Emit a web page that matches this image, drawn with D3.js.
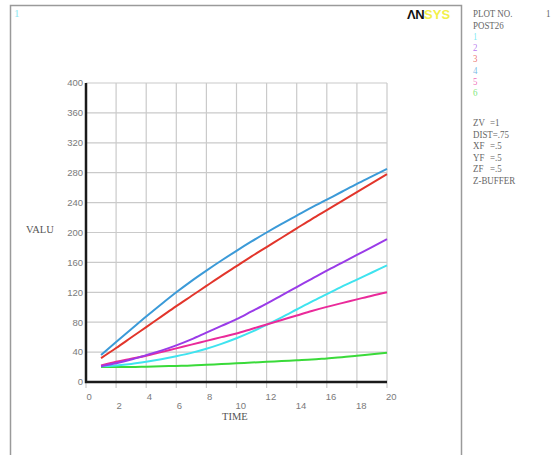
<!DOCTYPE html>
<html>
<head>
<meta charset="utf-8">
<script src="https://cdn.jsdelivr.net/npm/d3@7"></script>
<style>
  html, body { margin: 0; padding: 0; background: #fff; }
  svg { display: block; }
</style>
</head>
<body>
<script>
// POST26 time-history variables 1..6 against TIME
const time = [1, 2, 3, 4, 5, 6, 7, 8, 9, 10, 11, 12, 13, 14, 15, 16, 17, 18, 19, 20];
const var1 = [21, 22, 24, 27, 30.5, 34.5, 39, 44.5, 51, 58.5, 67, 76.5, 86.5, 97, 107.5, 117.5, 127.5, 137, 146.5, 156];
const var2 = [21, 25, 30, 36, 42, 49, 57, 66, 75, 84, 94.5, 105, 116, 127, 138, 149, 159.5, 170, 180.5, 191];
const var3 = [32, 45.5, 59.5, 73.5, 87.5, 101.5, 115, 128.5, 142, 155, 168, 180.5, 193, 205.5, 218, 230, 242, 254, 266, 278];
const var4 = [36, 53.5, 70.5, 87.5, 104, 120, 135, 149, 162.5, 175.5, 188, 200, 211.5, 222.5, 233.5, 244, 254.5, 265, 275, 285];
const var5 = [22, 27, 31, 35, 40, 45, 50, 55, 60, 65, 71, 77, 83, 89, 95, 100.5, 105.5, 110.5, 115.5, 120];
const var6 = [20, 20, 20, 20.5, 21, 21.5, 22, 23, 24, 25, 26, 27, 28, 29, 30, 31.5, 33, 35, 37, 39];

const seriesNames = ["1", "2", "3", "4", "5", "6"];
const seriesColors = ["#3fe3ef", "#9a3be8", "#e2352b", "#3b9ad8", "#ea2a9a", "#3ada3a"];
const seriesValues = [var1, var2, var3, var4, var5, var6];
// draw order: lower curves first
const drawOrder = [5, 0, 4, 1, 2, 3];

const xTicks = [0, 2, 4, 6, 8, 10, 12, 14, 16, 18, 20];
const yTicks = [0, 40, 80, 120, 160, 200, 240, 280, 320, 360, 400];

const panelTop = ["PLOT NO.", "POST26"];
// view settings: [name, value]; an empty value means the row is one piece of text
const viewKeys = ["ZV", "DIST=.75", "XF", "YF", "ZF", "Z-BUFFER"];
const viewVals = ["=1", "", "=.5", "=.5", "=.5", ""];

const W = 559, H = 455;
const svg = d3.select("body").append("svg").attr("width", W).attr("height", H);

// window frame
svg.append("path")
  .attr("d", "M10.5,460 V5.5 H461.5 V460")
  .attr("fill", "none").attr("stroke", "#9a9a9a").attr("stroke-width", 1.5);

// window number
svg.append("text").attr("x", 14).attr("y", 17)
  .attr("font-family", "Liberation Serif").attr("font-size", 11)
  .attr("fill", "#8fe8f2").text("1");

// logo
const logo = svg.append("text").attr("x", 407).attr("y", 19)
  .attr("font-family", "Liberation Sans").attr("font-size", 13);
logo.append("tspan").attr("font-weight", "bold").attr("fill", "#111")
  .attr("letter-spacing", -0.5).text("ΛN");
logo.append("tspan").attr("fill", "#f2f04a").attr("font-weight", "bold").text("SYS");

// scales
const x = d3.scaleLinear().domain([0, 20]).range([86, 387]);
const y = d3.scaleLinear().domain([0, 400]).range([382, 83]);

// grid
const grid = svg.append("g").attr("stroke", "#cacaca").attr("stroke-width", 1.2);
grid.selectAll("line.v").data(xTicks).join("line")
  .attr("x1", d => x(d)).attr("x2", d => x(d))
  .attr("y1", y(400)).attr("y2", y(0) + 6);
grid.selectAll("line.h").data(yTicks).join("line")
  .attr("x1", x(0)).attr("x2", x(20))
  .attr("y1", d => y(d)).attr("y2", d => y(d));

// tick labels
const tickFont = "Liberation Sans";
svg.append("g").selectAll("text").data(yTicks).join("text")
  .attr("x", 83).attr("y", d => y(d)).attr("dy", "0.35em")
  .attr("text-anchor", "end")
  .attr("font-family", tickFont).attr("font-size", 9.5).attr("fill", "#7a7a7a")
  .text(d => d);
svg.append("g").selectAll("text").data(xTicks).join("text")
  .attr("x", d => x(d) + (d >= 10 ? -1 : 0.5))
  .attr("y", (d, i) => i % 2 === 0 ? 400 : 409)
  .attr("font-family", tickFont).attr("font-size", 9.5).attr("fill", "#7a7a7a")
  .text(d => d);

// axis titles
svg.append("text").attr("x", 26).attr("y", 233)
  .attr("font-family", "Liberation Serif").attr("font-size", 10.5).attr("fill", "#555")
  .text("VALU");
svg.append("text").attr("x", 222).attr("y", 420)
  .attr("font-family", "Liberation Serif").attr("font-size", 10.5).attr("fill", "#555")
  .text("TIME");

// curves
const line = d3.line().x((d, i) => x(time[i])).y(d => y(d)).curve(d3.curveMonotoneX);
svg.append("g").selectAll("path").data(drawOrder).join("path")
  .attr("d", k => line(seriesValues[k]))
  .attr("fill", "none")
  .attr("stroke", k => seriesColors[k])
  .attr("stroke-width", 2)
  .attr("stroke-linejoin", "round");

// axes
svg.append("path")
  .attr("d", `M${x(0)},${y(400)} V${y(0)} H${x(20)}`)
  .attr("fill", "none").attr("stroke", "#1a1a1a").attr("stroke-width", 2.5);

// side panel
const panel = svg.append("g").attr("font-family", "Liberation Serif").attr("font-size", 10.5)
  .attr("fill", "#666");
function panelText(txt, xx, yy, col, op) {
  panel.append("text").attr("transform", `translate(${xx},${yy}) scale(0.85,1)`)
    .attr("fill", col || "#666").attr("fill-opacity", op || 1).text(txt);
}
panelText(panelTop[0], 473, 17);
panelText("1", 546, 17);
panelText(panelTop[1], 473, 29);
seriesNames.forEach((n, i) => panelText(n, 473, 40 + i * 11.2, seriesColors[i], 0.7));
viewKeys.forEach((k, i) => {
  panelText(k, 473, 126 + i * 11.5);
  if (viewVals[i]) panelText(viewVals[i], 490, 126 + i * 11.5);
});
</script>
</body>
</html>
